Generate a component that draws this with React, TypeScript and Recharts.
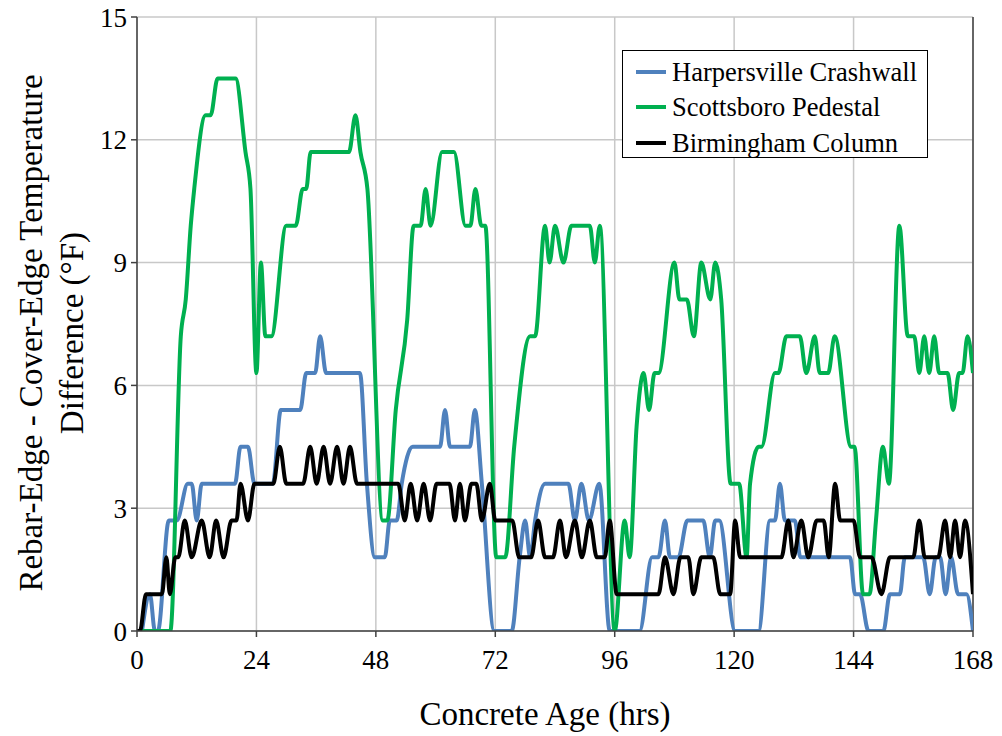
import React from 'react';
import { LineChart, Line, XAxis, YAxis, CartesianGrid, Legend, ReferenceLine } from 'recharts';

const xTicks = [0, 24, 48, 72, 96, 120, 144, 168];
const yTicks = [0, 3, 6, 9, 12, 15];

const seriesNames = ['Harpersville Crashwall', 'Scottsboro Pedestal', 'Birmingham Column'];
const seriesColors = ['#4F81BD', '#00B050', '#000000'];

const harpHours = [1, 2.6, 3.6, 4.2, 6.4, 8, 10.2, 11, 12, 13, 19.7, 20.8, 22.3, 23.6, 27.3, 28.9, 32.8, 34, 35.8, 36.8, 38, 44.8, 46.2, 47.8, 49.8, 50.8, 52.2, 53.2, 55.4, 60.9, 61.9, 62.9, 66.9, 67.9, 69.3, 71.8, 75.3, 76.9, 78, 79, 80, 82, 86.7, 88, 89.3, 90.8, 92.9, 95, 101, 103.5, 104.8, 106.1, 107.1, 108.8, 110.6, 113.8, 115.1, 116.2, 117, 120.2, 124.9, 127.2, 128.2, 129.2, 130.2, 132.2, 133.3, 143.3, 144.3, 145.3, 147, 150, 151.3, 153.3, 154.3, 158, 159.3, 160.5, 161.4, 162.5, 163.6, 165, 166.7, 168];
const harpValues = [0, 0.9, 0, 0, 2.7, 2.7, 3.6, 3.6, 2.7, 3.6, 3.6, 4.5, 4.5, 3.6, 3.6, 5.4, 5.4, 6.3, 6.3, 7.2, 6.3, 6.3, 3.6, 1.8, 1.8, 2.7, 2.7, 3.6, 4.5, 4.5, 5.4, 4.5, 4.5, 5.4, 3.6, 0, 0, 1.8, 2.7, 1.8, 2.7, 3.6, 3.6, 2.7, 3.6, 2.7, 3.6, 0, 0, 1.8, 1.8, 2.7, 1.8, 1.8, 2.7, 2.7, 1.8, 2.7, 2.7, 0, 0, 2.7, 2.7, 3.6, 2.7, 2.7, 1.8, 1.8, 0.9, 0.9, 0, 0, 0.9, 0.9, 1.8, 1.8, 0.9, 1.8, 1.8, 0.9, 1.8, 0.9, 0.9, 0];

const scotHours = [0, 6.7, 8.8, 9.8, 10.8, 11.5, 13.8, 14.8, 16.2, 19.8, 21.8, 22.8, 24, 24.9, 25.8, 27, 30, 31.9, 33.3, 34, 34.9, 42.6, 43.9, 44.9, 46.3, 49.4, 50.3, 52, 54.3, 55.6, 57, 58, 59, 61.3, 63.7, 66, 67, 68, 69.2, 70, 72.2, 74, 75.8, 79, 80, 82, 82.9, 84, 85.7, 87.3, 91, 92, 93, 96, 98, 99, 100.4, 101.8, 102.9, 104, 104.8, 108, 109, 110.5, 111.9, 113.4, 115.2, 116.2, 117.4, 119.3, 121, 122.5, 123.2, 124.9, 125.5, 128.2, 128.9, 130.5, 133.2, 134.5, 136.2, 137.2, 138.9, 140.2, 143.5, 144.2, 145.9, 147.2, 148.5, 149.9, 151.1, 153.2, 154.9, 156.2, 157.2, 158.2, 159.2, 160.2, 161.2, 162.9, 164, 165.2, 165.9, 166.9, 168];
const scotValues = [0, 0, 7.2, 8.1, 9.9, 10.8, 12.6, 12.6, 13.5, 13.5, 11.7, 10.8, 6.3, 9.0, 7.2, 7.2, 9.9, 9.9, 10.8, 10.8, 11.7, 11.7, 12.6, 11.7, 10.8, 2.7, 2.7, 5.4, 7.6, 9.9, 9.9, 10.8, 9.9, 11.7, 11.7, 9.9, 9.9, 10.8, 9.9, 9.9, 1.8, 1.8, 4.5, 7.2, 7.2, 9.9, 9.0, 9.9, 9.0, 9.9, 9.9, 9.0, 9.9, 0, 2.7, 1.8, 5.0, 6.3, 5.4, 6.3, 6.3, 9.0, 8.1, 8.1, 7.2, 9.0, 8.1, 9.0, 8.1, 3.6, 3.6, 1.8, 3.6, 4.5, 4.5, 6.3, 6.3, 7.2, 7.2, 6.3, 7.2, 6.3, 6.3, 7.2, 4.5, 4.5, 0.9, 0.9, 2.7, 4.5, 3.6, 9.9, 7.2, 7.2, 6.3, 7.2, 6.3, 7.2, 6.3, 6.3, 5.4, 6.3, 6.3, 7.2, 6.3];

const birmHours = [0, 0.6, 1.8, 5, 5.9, 6.6, 7.7, 8.3, 9.6, 11, 13, 14.6, 15.9, 17.4, 19, 20, 20.8, 22.3, 23.6, 27.4, 28.7, 30, 33.4, 34.8, 36.1, 37.5, 38.8, 40.2, 41.5, 42.8, 44.2, 52.5, 53.8, 55, 56.3, 57.6, 58.9, 60.2, 62.8, 63.9, 64.9, 65.9, 67.2, 68.2, 69.3, 70.9, 72, 75.4, 76.8, 79.2, 80.6, 82, 83.6, 85, 86.2, 88, 89.4, 91, 92.4, 94, 95, 96.4, 104.8, 106.1, 107.8, 109.2, 110.8, 111.8, 113.4, 115.8, 117.2, 119.2, 120.2, 121.2, 129.5, 130.9, 131.9, 133.5, 134.9, 136.6, 138, 139, 140.3, 141.3, 144, 145.3, 147.6, 149.6, 151.3, 156, 157.2, 158.3, 161, 162.4, 163.4, 164.4, 165.4, 166.4, 168];
const birmValues = [0, 0, 0.9, 0.9, 1.8, 0.9, 1.8, 1.8, 2.7, 1.8, 2.7, 1.8, 2.7, 1.8, 2.7, 2.7, 3.6, 2.7, 3.6, 3.6, 4.5, 3.6, 3.6, 4.5, 3.6, 4.5, 3.6, 4.5, 3.6, 4.5, 3.6, 3.6, 2.7, 3.6, 2.7, 3.6, 2.7, 3.6, 3.6, 2.7, 3.6, 2.7, 3.6, 3.6, 2.7, 3.6, 2.7, 2.7, 1.8, 1.8, 2.7, 1.8, 1.8, 2.7, 1.8, 2.7, 1.8, 2.7, 1.8, 1.8, 2.7, 0.9, 0.9, 1.8, 0.9, 1.8, 1.8, 0.9, 1.8, 1.8, 0.9, 0.9, 2.7, 1.8, 1.8, 2.7, 1.8, 2.7, 1.8, 2.7, 2.7, 1.8, 3.6, 2.7, 2.7, 1.8, 1.8, 0.9, 1.8, 1.8, 2.7, 1.8, 1.8, 2.7, 1.8, 2.7, 1.8, 2.7, 0.9];

const toData = (hours: number[], values: number[]) => hours.map((h, i) => ({ h, v: values[i] }));
const harpData = toData(harpHours, harpValues);
const scotData = toData(scotHours, scotValues);
const birmData = toData(birmHours, birmValues);

const FONT = 'Liberation Serif, Times New Roman, serif';
const AXIS = '#404040';

const YTitle = () => (
  <g>
    <text x={31} y={333} textAnchor="middle" dominantBaseline="central" transform="rotate(-90, 31, 333)" style={{ fontFamily: FONT, fontSize: 33 }} fill="#000">
      Rebar-Edge - Cover-Edge Temperature
    </text>
    <text x={72} y={333} textAnchor="middle" dominantBaseline="central" transform="rotate(-90, 72, 333)" style={{ fontFamily: FONT, fontSize: 33 }} fill="#000">
      Difference (°F)
    </text>
  </g>
);

const XTitle = () => (
  <text x={545} y={714} textAnchor="middle" dominantBaseline="central" style={{ fontFamily: FONT, fontSize: 33 }} fill="#000">
    Concrete Age (hrs)
  </text>
);

const LegendBox = () => (
  <div style={{ width: 306, height: 108, boxSizing: 'border-box', border: '1.5px solid #000', background: '#fff', paddingTop: 3, paddingLeft: 13, fontFamily: FONT }}>
    {seriesNames.map((name, i) => (
      <div key={name} style={{ display: 'flex', alignItems: 'center', height: 35.5 }}>
        <svg width={30} height={8} style={{ display: 'block' }}>
          <line x1={0} y1={4} x2={30} y2={4} stroke={seriesColors[i]} strokeWidth={4} strokeLinecap="round" />
        </svg>
        <span style={{ marginLeft: 6, fontSize: 26.5, color: '#000', lineHeight: '30px', fontFamily: FONT }}>{name}</span>
      </div>
    ))}
  </div>
);

const tickStyle = { fontSize: 27, fill: '#000', fontFamily: FONT, style: { fontFamily: FONT } };

export default function App() {
  return (
    <div style={{ position: 'absolute', left: 0, top: 0, width: 1002, height: 736, background: '#fff', fontFamily: FONT }}>
      <LineChart width={1002} height={736} margin={{ top: 17, right: 29, bottom: 0, left: 0 }} style={{ fontFamily: FONT }}>
        <CartesianGrid stroke="#C8C8C8" strokeWidth={1.5} />
        <XAxis
          dataKey="h"
          type="number"
          domain={[0, 168]}
          ticks={xTicks}
          height={105}
          allowDataOverflow
          stroke={AXIS}
          tickSize={6}
          tickMargin={13}
          tick={tickStyle}
          axisLine={{ stroke: AXIS, strokeWidth: 1.5 }}
          tickLine={{ stroke: AXIS, strokeWidth: 1.5 }}
          label={<XTitle />}
        />
        <YAxis
          type="number"
          domain={[0, 15]}
          ticks={yTicks}
          width={137}
          allowDataOverflow
          stroke={AXIS}
          tickSize={6}
          tickMargin={4}
          tick={tickStyle}
          axisLine={{ stroke: AXIS, strokeWidth: 1.5 }}
          tickLine={{ stroke: AXIS, strokeWidth: 1.5 }}
          label={<YTitle />}
        />
        <ReferenceLine x={168} stroke={AXIS} strokeWidth={1.5} />
        <Legend
          layout="horizontal"
          verticalAlign="middle"
          align="center"
          content={<LegendBox />}
          wrapperStyle={{ position: 'absolute', left: 622, top: 50, width: 306, height: 108, bottom: 'auto', right: 'auto' }}
        />
        <Line data={harpData} dataKey="v" name={seriesNames[0]} type="monotone" stroke={seriesColors[0]} strokeWidth={4} dot={false} activeDot={false} isAnimationActive={false} />
        <Line data={scotData} dataKey="v" name={seriesNames[1]} type="monotone" stroke={seriesColors[1]} strokeWidth={4} dot={false} activeDot={false} isAnimationActive={false} />
        <Line data={birmData} dataKey="v" name={seriesNames[2]} type="monotone" stroke={seriesColors[2]} strokeWidth={4} dot={false} activeDot={false} isAnimationActive={false} />
      </LineChart>
    </div>
  );
}
